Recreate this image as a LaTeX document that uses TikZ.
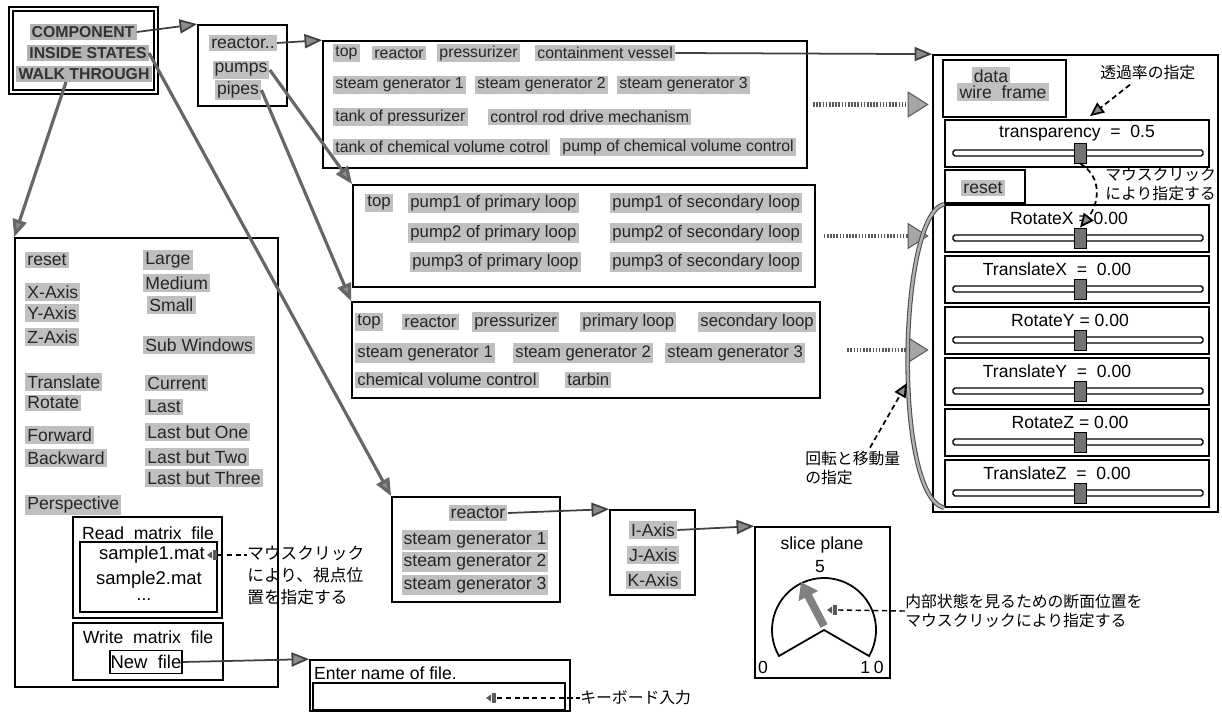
\documentclass[tikz,border=0pt]{standalone}
\usepackage{fontspec}
\setmainfont{Liberation Sans}
\newfontfamily\jpfont{Noto Sans CJK JP}
\usetikzlibrary{arrows.meta,positioning,fit,calc}

\begin{document}
\begin{tikzpicture}[x=0.02cm,y=-0.02cm,
    item/.style={fill=black!25,text=black!85,inner sep=1.2pt,anchor=west,font=\fontsize{10}{11}\selectfont},
    smallitem/.style={item,font=\fontsize{9}{10}\selectfont},
    miditem/.style={item,font=\fontsize{9.5}{10.5}\selectfont},
    menuitem/.style={fill=black!30,text=black!80,inner sep=1.2pt,font=\bfseries\fontsize{9}{10}\selectfont},
    lbl/.style={inner sep=1pt,font=\fontsize{10}{11}\selectfont},
    box/.style={draw,line width=1pt,inner sep=0pt},
    arrow/.style={draw=black!75,line width=1pt,-{Triangle[length=10pt,width=8pt,fill=black!45]}},
    heavy/.style={arrow,draw=black!60,line width=1.8pt},
    hatch/.style={draw=black!65,line width=2.5pt,dash pattern=on 0.9pt off 0.9pt,
                  -{Triangle[length=12pt,width=15pt,fill=black!35,color=black!65,line width=0.6pt]}},
    leader/.style={densely dashed,line width=0.8pt},
    leadarrow/.style={leader,line width=1pt,-{Triangle[length=8pt,width=7pt,fill=black!45]}},
    note/.style={anchor=west,align=left,inner sep=0pt,font=\jpfont\fontsize{9}{11}\selectfont},
    click/.pic={\fill[black!65] (-11,0) -- (-6,-3.5) -- (-6,3.5) -- cycle;
                \fill[black!65] (-5,-5) rectangle (-1,5);}
  ]
  \useasboundingbox (0,0) rectangle (1222,712);

  % main menu
  \node[box,double,double distance=1.5pt,line width=0.7pt,fit={(11,9)(156,92)}] (menu) {};
  \node[menuitem] (comp)   at (83,32) {COMPONENT};
  \node[menuitem] (inside) at (88,53) {INSIDE STATES};
  \node[menuitem] (walk)   at (84,74) {WALK THROUGH};

  \node[box,fit={(198,25)(287,106)}] (parts) {};
  \node[item,anchor=center] (preact) at (243,43) {reactor..};
  \node[item,anchor=center] (ppumps) at (241,70) {pumps};
  \node[item,anchor=center] (ppipes) at (238,90) {pipes};

  % component lists
  \node[box,fit={(323,41)(807,168)}] (comps) {};
  \node[smallitem] (c1)  at (333,53)  {top};
  \node[smallitem] (c2)  at (372,53)  {reactor};
  \node[smallitem] (c3)  at (437,53)  {pressurizer};
  \node[smallitem] (c4)  at (535,53)  {containment vessel};
  \node[smallitem] (c5)  at (333,85)  {steam generator 1};
  \node[smallitem] (c6)  at (475,85)  {steam generator 2};
  \node[smallitem] (c7)  at (617,85)  {steam generator 3};
  \node[smallitem] (c8)  at (333,117) {tank of pressurizer};
  \node[smallitem] (c9)  at (488,117) {control rod drive mechanism};
  \node[smallitem] (c10) at (333,147) {tank of chemical volume cotrol};
  \node[smallitem] (c11) at (560,147) {pump of chemical volume control};

  \node[box,fit={(353,185)(815,287)}] (pumpbox) {};
  \node[miditem] (p1) at (365,203) {top};
  \node[miditem] (p2) at (408,203) {pump1 of primary loop};
  \node[miditem] (p3) at (610,203) {pump1 of secondary loop};
  \node[miditem] (p4) at (408,233) {pump2 of primary loop};
  \node[miditem] (p5) at (610,233) {pump2 of secondary loop};
  \node[miditem] (p6) at (410,262) {pump3 of primary loop};
  \node[miditem] (p7) at (610,262) {pump3 of secondary loop};

  \node[box,fit={(352,302)(820,398)}] (pipebox) {};
  \node[miditem] (q1)  at (355,322) {top};
  \node[miditem] (q2)  at (402,322) {reactor};
  \node[miditem] (q3)  at (472,322) {pressurizer};
  \node[miditem] (q4)  at (580,322) {primary loop};
  \node[miditem] (q5)  at (698,322) {secondary loop};
  \node[miditem] (q6)  at (355,353) {steam generator 1};
  \node[miditem] (q7)  at (513,353) {steam generator 2};
  \node[miditem] (q8)  at (665,353) {steam generator 3};
  \node[miditem] (q9)  at (355,380) {chemical volume control};
  \node[miditem] (q10) at (565,380) {tarbin};

  % display panel
  \node[box,fit={(933,55)(1218,512)}] (panel) {};
  \node[box,fit={(943,60)(1066,117)}] (mode) {};
  \node[item,anchor=center] (data) at (991,76) {data};
  \node[item,anchor=center] (wire) at (1003,92) {wire\ \ frame};
  \node[box,fit={(945,170)(1025,203)}] (resetbox) {};
  \node[item,anchor=center] (reset) at (983,188) {reset};
  \foreach \n/\ty/\cx/\txt in {1/120/1077/{transparency\ \ =\ \ 0.5},2/205/1069/{RotateX = 0.00},
      3/256/1057/{TranslateX\ \ =\ \ 0.00},4/307/1070/{RotateY = 0.00},5/358/1057/{TranslateY\ \ =\ \ 0.00},
      6/409/1070/{RotateZ = 0.00},7/460/1057/{TranslateZ\ \ =\ \ 0.00}}{
    \node[box,fit={(945,\ty)(1209,\ty+47)}] (slider\n) {};
    \node[lbl] (sname\n) at (\cx,\ty+13) {\txt};
    \node[draw,line width=0.8pt,rounded corners=1pt,minimum width=5cm,minimum height=0.12cm,inner sep=0pt] (track\n) at (1078,\ty+33) {};
    \node[draw,fill=black!55,minimum width=0.24cm,minimum height=0.4cm,inner sep=0pt] (knob\n) at (1080,\ty+33) {};
  }
  \node[note] (trnote) at (1100,73) {透過率の指定};
  \node[note] (knobnote) at (1105,184) {マウスクリック\\により指定する};
  \node[note] (rotnote) at (805,468) {回転と移動量\\の指定};
  \coordinate (brk) at (907,383);

  % view menu
  \node[box,fit={(15,238)(278,687)}] (viewbox) {};
  \node[item] (v1)  at (25,260) {reset};
  \node[item] (v2)  at (25,292) {X-Axis};
  \node[item] (v3)  at (25,313) {Y-Axis};
  \node[item] (v4)  at (25,337) {Z-Axis};
  \node[item] (v5)  at (25,382) {Translate};
  \node[item] (v6)  at (25,403) {Rotate};
  \node[item] (v7)  at (25,435) {Forward};
  \node[item] (v8)  at (25,458) {Backward};
  \node[item] (v9)  at (25,505) {Perspective};
  \node[item] (v10) at (143,260) {Large};
  \node[item] (v11) at (143,283) {Medium};
  \node[item] (v12) at (147,305) {Small};
  \node[item] (v13) at (143,345) {Sub Windows};
  \node[item] (v14) at (145,383) {Current};
  \node[item] (v15) at (145,407) {Last};
  \node[item] (v16) at (145,432) {Last but One};
  \node[item] (v17) at (145,457) {Last but Two};
  \node[item] (v18) at (145,478) {Last but Three};

  \node[box,fit={(73,517)(222,618)}] (readbox) {};
  \node[lbl] (readlbl) at (148,533) {Read\ \ matrix\ \ file};
  \node[box,fit={(80,542)(217,612)}] (filelist) {};
  \node[lbl,font=\fontsize{10.5}{11}\selectfont] (f1) at (152,555) {sample1.mat};
  \node[lbl,font=\fontsize{10.5}{11}\selectfont] (f2) at (149,580) {sample2.mat};
  \node[lbl] (f3) at (144,600) {...};
  \coordinate (mclick) at (218,555);
  \node[note,anchor=north west,font=\jpfont\fontsize{9.5}{12.5}\selectfont] (mnote) at (247,546) {マウスクリック\\により、視点位\\置を指定する};

  \node[box,fit={(73,623)(223,680)}] (writebox) {};
  \node[lbl] (writelbl) at (148,637) {Write\ \ matrix\ \ file};
  \node[box,minimum width=1.44cm,minimum height=0.46cm,font=\fontsize{10.5}{11}\selectfont] (newfile) at (146,662) {New\ \ file};

  \node[box,fit={(310,660)(570,711)}] (enterbox) {};
  \node[lbl,anchor=west] (enterlbl) at (312,673) {Enter name of file.};
  \node[box,fit={(313,683)(565,710)}] (entry) {};
  \coordinate (kclick) at (497,698);
  \node[note] (knote) at (580,698) {キーボード入力};

  % inside states
  \node[box,fit={(392,497)(560,602)}] (sgbox) {};
  \node[item,anchor=center] (sgreact) at (478,513) {reactor};
  \node[item,anchor=center] (sg1) at (475,540) {steam generator 1};
  \node[item,anchor=center] (sg2) at (475,562) {steam generator 2};
  \node[item,anchor=center] (sg3) at (475,585) {steam generator 3};

  \node[box,fit={(610,510)(695,595)}] (axisbox) {};
  \node[item,anchor=center] (iaxis) at (653,530) {I-Axis};
  \node[item,anchor=center] (jaxis) at (653,555) {J-Axis};
  \node[item,anchor=center] (kaxis) at (653,580) {K-Axis};

  \node[box,fit={(755,527)(890,678)}] (slicebox) {};
  \node[lbl] (slicelbl) at (822,545) {slice plane};
  \node[lbl] (five) at (820,567) {5};
  \node[lbl] (zero) at (763,667) {0};
  \node[lbl] (ten) at (872,667) {1\hspace{2pt}0};
  \coordinate (dial) at (824,630);
  \coordinate (needle) at (801,582);
  \draw[line width=1pt] ($(dial)+(150:52)$) arc[start angle=150,end angle=390,radius=52] -- (dial) -- cycle;
  \draw[line width=4.5pt,black!50,-{Triangle[length=9pt,width=12pt]}] ($(dial)+(0,-4)$) -- (needle);
  \coordinate (dclick) at (838,610);
  \node[note] (dnote) at (905,611) {内部状態を見るための断面位置を\\マウスクリックにより指定する};

  % connectors
  \draw[arrow] (comp.east) -- (parts.north west);
  \draw[arrow] (preact.east) -- (comps.north west);
  \draw[arrow] (c4.east) -- (panel.north west);
  \draw[heavy] ($(walk.south)+(-18,0)$) -- (viewbox.north west);
  \draw[heavy] (inside.east) -- (sgbox.north west);
  \draw[heavy] (ppumps.east) -- (pumpbox.north west);
  \draw[heavy] (ppipes.east) -- (pipebox.north west);
  \draw[arrow] (sgreact.east) -- (axisbox.north west);
  \draw[arrow] (iaxis.east) -- (slicebox.north west);
  \draw[arrow] (newfile.east) -- (enterbox.north west);

  \draw[hatch,shorten >=2pt] ([xshift=3pt]comps.east) -- (comps.east -| panel.west);
  \draw[hatch,shorten >=2pt] ([xshift=4.5pt]pumpbox.east) -- (pumpbox.east -| panel.west);
  \draw[hatch,shorten >=2pt] ([xshift=15pt]pipebox.east) -- (pipebox.east -| panel.west);

  \draw[black!70,line width=0.6pt,double=black!30,double distance=1.4pt]
    (slider2.north west) .. controls (898,215) and (893,495) .. (slider7.south west);
  \draw[leadarrow] ($(trnote.south west)+(30,4)$) -- ($(slider1.north)+(13,-3)$);
  \draw[leadarrow] (knob1.south) .. controls (1104,178) and (1098,205) .. (knob2.north);
  \draw[leadarrow] ($(rotnote.north west)+(65,-3)$) -- (brk);

  \pic at (mclick) {click};
  \draw[leader] (mclick) -- (mclick -| mnote.west);
  \pic at (kclick) {click};
  \draw[leader] (kclick) -- (knote.west);
  \pic at (dclick) {click};
  \draw[leader] (dclick) -- (dnote.west);
\end{tikzpicture}
\end{document}
